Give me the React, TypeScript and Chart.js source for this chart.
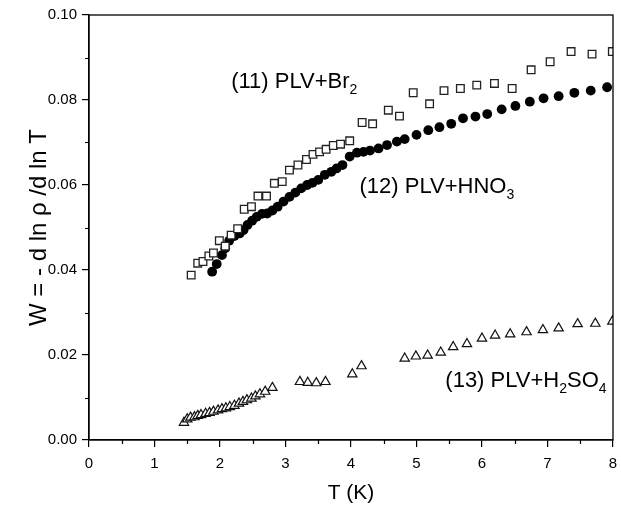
import React, { useEffect, useRef } from 'react';
import { Chart, registerables } from 'chart.js';

Chart.register(...registerables);

// ---- Data ----
const brT = [1.56, 1.66, 1.74, 1.83, 1.90, 1.99, 2.08, 2.17, 2.27, 2.37, 2.48, 2.58, 2.71, 2.83, 2.95, 3.06, 3.19, 3.32, 3.42, 3.52, 3.62, 3.73, 3.84, 3.98, 4.17, 4.33, 4.57, 4.74, 4.95, 5.20, 5.42, 5.67, 5.92, 6.19, 6.46, 6.75, 7.04, 7.36, 7.68, 7.99];
const brW = [0.0388, 0.0416, 0.0420, 0.0433, 0.0440, 0.0469, 0.0456, 0.0482, 0.0497, 0.0543, 0.0549, 0.0574, 0.0574, 0.0604, 0.0608, 0.0635, 0.0647, 0.0660, 0.0672, 0.0678, 0.0684, 0.0693, 0.0696, 0.0704, 0.0747, 0.0744, 0.0776, 0.0762, 0.0817, 0.0791, 0.0822, 0.0827, 0.0835, 0.0839, 0.0827, 0.0871, 0.0890, 0.0914, 0.0908, 0.0914];

const hnoT = [1.88, 1.95, 2.03, 2.08, 2.14, 2.22, 2.30, 2.36, 2.42, 2.49, 2.56, 2.64, 2.72, 2.80, 2.88, 2.97, 3.06, 3.15, 3.24, 3.33, 3.41, 3.50, 3.60, 3.70, 3.78, 3.87, 3.98, 4.09, 4.19, 4.29, 4.42, 4.55, 4.70, 4.82, 5.00, 5.18, 5.35, 5.53, 5.71, 5.90, 6.08, 6.30, 6.51, 6.73, 6.94, 7.17, 7.41, 7.66, 7.91];
const hnoW = [0.0396, 0.0414, 0.0435, 0.0451, 0.0469, 0.0480, 0.0486, 0.0494, 0.0506, 0.0516, 0.0525, 0.0532, 0.0533, 0.0540, 0.0549, 0.0561, 0.0572, 0.0582, 0.0592, 0.0600, 0.0605, 0.0612, 0.0624, 0.0631, 0.0639, 0.0647, 0.0667, 0.0676, 0.0678, 0.0681, 0.0686, 0.0694, 0.0702, 0.0708, 0.0718, 0.0729, 0.0736, 0.0744, 0.0757, 0.0761, 0.0767, 0.0778, 0.0786, 0.0796, 0.0804, 0.0809, 0.0817, 0.0822, 0.0830];

const h2T = [1.45, 1.50, 1.55, 1.61, 1.66, 1.71, 1.78, 1.84, 1.90, 1.97, 2.03, 2.09, 2.15, 2.22, 2.29, 2.35, 2.41, 2.48, 2.54, 2.61, 2.69, 2.80, 3.22, 3.34, 3.47, 3.61, 4.02, 4.16, 4.82, 4.99, 5.17, 5.37, 5.56, 5.77, 6.00, 6.20, 6.43, 6.68, 6.93, 7.17, 7.46, 7.73, 7.99];
const h2W = [0.0041, 0.0049, 0.0053, 0.0054, 0.0057, 0.0059, 0.0062, 0.0064, 0.0067, 0.0070, 0.0073, 0.0075, 0.0078, 0.0081, 0.0086, 0.0090, 0.0094, 0.0098, 0.0103, 0.0108, 0.0114, 0.0123, 0.0137, 0.0135, 0.0134, 0.0137, 0.0155, 0.0174, 0.0192, 0.0197, 0.0199, 0.0206, 0.0219, 0.0226, 0.0239, 0.0246, 0.0249, 0.0254, 0.0259, 0.0263, 0.0273, 0.0274, 0.0279];

const xMinorTicks = [0.5, 1.5, 2.5, 3.5, 4.5, 5.5, 6.5, 7.5];
const yMinorTicks = [0.01, 0.03, 0.05, 0.07, 0.09];

const xTitle = 'T (K)';
const yTitle = 'W = - d ln ρ /d ln T';

// Annotation texts: [text, isSubscript] segments, anchored in data coordinates
const notes = [
  { parts: [['(11) PLV+Br', false], ['2', true]] as [string, boolean][], T: 2.17, W: 0.0828 },
  { parts: [['(12) PLV+HNO', false], ['3', true]] as [string, boolean][], T: 4.13, W: 0.0581 },
  { parts: [['(13) PLV+H', false], ['2', true], ['SO', false], ['4', true]] as [string, boolean][], T: 5.44, W: 0.0125 },
];

const FONT = '"Liberation Sans", Arial, Helvetica, sans-serif';

const decorPlugin = {
  id: 'decor',
  afterDatasetsDraw(chart: any) {
    const { ctx, chartArea, scales } = chart;
    const x = scales.x;
    const y = scales.y;
    ctx.save();
    // frame
    ctx.strokeStyle = '#000';
    ctx.lineWidth = 1.3;
    ctx.strokeRect(chartArea.left, chartArea.top, chartArea.right - chartArea.left, chartArea.bottom - chartArea.top);
    // minor ticks
    ctx.lineWidth = 1.2;
    ctx.beginPath();
    for (const v of xMinorTicks) {
      const px = Math.round(x.getPixelForValue(v)) + 0.5;
      ctx.moveTo(px, chartArea.bottom);
      ctx.lineTo(px, chartArea.bottom + 4);
    }
    for (const v of yMinorTicks) {
      const py = Math.round(y.getPixelForValue(v)) + 0.5;
      ctx.moveTo(chartArea.left, py);
      ctx.lineTo(chartArea.left - 4, py);
    }
    ctx.stroke();
    // annotations
    ctx.fillStyle = '#000';
    ctx.textBaseline = 'alphabetic';
    ctx.textAlign = 'left';
    for (const n of notes) {
      let px = x.getPixelForValue(n.T);
      const py = y.getPixelForValue(n.W);
      for (const [t, sub] of n.parts) {
        ctx.font = sub ? `14px ${FONT}` : `22px ${FONT}`;
        ctx.fillText(t, px, sub ? py + 6 : py);
        px += ctx.measureText(t).width;
      }
    }
    ctx.restore();
  },
};

export default function App() {
  const ref = useRef<HTMLCanvasElement | null>(null);
  useEffect(() => {
    if (!ref.current) return;
    const chart = new Chart(ref.current, {
      type: 'scatter',
      data: {
        datasets: [
          {
            label: 'PLV+Br2',
            data: brT.map((t, i) => ({ x: t, y: brW[i] })),
            pointStyle: 'rect',
            pointRadius: 5.4,
            backgroundColor: '#fff',
            borderColor: '#222',
            borderWidth: 1.3,
          },
          {
            label: 'PLV+HNO3',
            data: hnoT.map((t, i) => ({ x: t, y: hnoW[i] })),
            pointStyle: 'circle',
            pointRadius: 4.9,
            backgroundColor: '#000',
            borderColor: '#000',
            borderWidth: 0,
          },
          {
            label: 'PLV+H2SO4',
            data: h2T.map((t, i) => ({ x: t, y: h2W[i] })),
            pointStyle: 'triangle',
            pointRadius: 5.4,
            backgroundColor: '#fff',
            borderColor: '#111',
            borderWidth: 1.2,
          },
        ],
      },
      options: {
        animation: false,
        responsive: false,
        devicePixelRatio: 1,
        layout: { padding: { left: 0, right: 8, top: 15, bottom: 0 } },
        plugins: { legend: { display: false }, tooltip: { enabled: false } },
        scales: {
          x: {
            type: 'linear',
            min: 0,
            max: 8,
            ticks: { stepSize: 1, color: '#000', font: { family: FONT, size: 15 }, padding: 8, maxRotation: 0 },
            grid: { drawOnChartArea: false, drawTicks: true, tickLength: 7, color: '#000', lineWidth: 1.2 },
            border: { display: true, color: '#000', width: 1.3 },
            title: { display: true, text: xTitle, color: '#000', font: { family: FONT, size: 21 }, padding: { top: 0, bottom: 8 } },
            afterFit: (s: any) => { s.height = 74; s.paddingLeft = 0; s.paddingRight = 0; },
          },
          y: {
            type: 'linear',
            min: 0,
            max: 0.1,
            ticks: { stepSize: 0.02, color: '#000', font: { family: FONT, size: 15 }, padding: 5, callback: (v: any) => Number(v).toFixed(2) },
            grid: { drawOnChartArea: false, drawTicks: true, tickLength: 7, color: '#000', lineWidth: 1.2 },
            border: { display: true, color: '#000', width: 1.3 },
            title: { display: true, text: yTitle, color: '#000', font: { family: FONT, size: 24 }, padding: { top: 25, bottom: 0 } },
            afterFit: (s: any) => { s.width = 89; s.paddingTop = 0; s.paddingBottom = 0; },
          },
        },
      },
      plugins: [decorPlugin],
    });
    return () => chart.destroy();
  }, []);
  return (
    <div style={{ position: 'fixed', left: 0, top: 0, width: 621, height: 514, background: '#fff' }}>
      <canvas ref={ref} width={621} height={514} style={{ display: 'block', width: 621, height: 514 }} />
    </div>
  );
}
